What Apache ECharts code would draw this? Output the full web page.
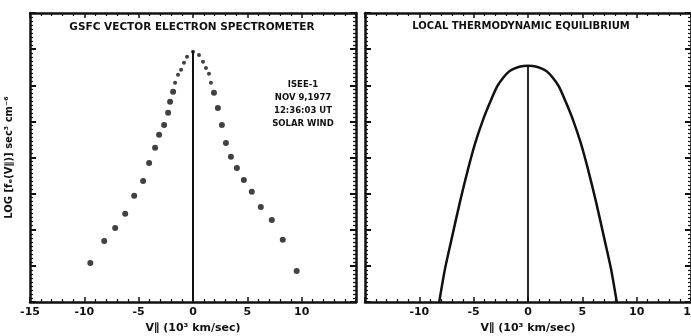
<!DOCTYPE html>
<html>
<head>
<meta charset="utf-8">
<script src="https://cdn.jsdelivr.net/npm/echarts@6/dist/echarts.min.js"></script>
<style>
  html, body { margin: 0; padding: 0; background: #fff; }
  #chart { width: 691px; height: 336px; }
</style>
</head>
<body>
<div id="chart"></div>
<script>
  // measured electron distribution (left panel)
  var measV = [-9.45, -8.17, -7.16, -6.24, -5.41, -4.59, -4.04, -3.49, -3.12, -2.66, -2.29, -2.11, -1.83, -1.65, -1.38, -1.10, -0.83, -0.55, 0,
               0.55, 0.92, 1.19, 1.47, 1.65, 1.93, 2.29, 2.66, 3.03, 3.49, 4.04, 4.68, 5.41, 6.24, 7.25, 8.26, 9.54];
  var measLogF = [1.08, 1.69, 2.05, 2.44, 2.94, 3.35, 3.85, 4.27, 4.63, 4.90, 5.24, 5.54, 5.82, 6.07, 6.29, 6.43, 6.62, 6.79, 6.93,
                  6.84, 6.65, 6.48, 6.32, 6.07, 5.79, 5.37, 4.90, 4.40, 4.02, 3.71, 3.38, 3.05, 2.63, 2.27, 1.72, 0.86];
  // maxwellian (right panel)
  var lteV = [-8.17, -7.65, -7.1, -6.24, -5.5, -4.86, -4.13, -3.5, -2.85, -2.3, -1.65, -0.8, 0,
              0.8, 1.65, 2.3, 2.85, 3.5, 4.13, 4.86, 5.5, 6.24, 7.1, 7.65, 8.17];
  var lteLogF = [0, 0.90, 1.65, 2.80, 3.70, 4.40, 5.05, 5.52, 5.96, 6.20, 6.40, 6.51, 6.54,
                 6.51, 6.40, 6.20, 5.96, 5.52, 5.05, 4.40, 3.70, 2.80, 1.65, 0.90, 0];
  var peakLeft = 6.95;
  var peakRight = 6.54;
  var infoLines = ['ISEE-1', 'NOV 9,1977', '12:36:03 UT', 'SOLAR WIND'];
  var titles = ['GSFC VECTOR ELECTRON SPECTROMETER', 'LOCAL THERMODYNAMIC EQUILIBRIUM'];
  var xName = 'V\u2225 (10\u00b3 km/sec)';
  var yName = 'LOG [f\u2091(V\u2225)] sec\u00b3 cm\u207b\u2076';

  var chart = echarts.init(document.getElementById('chart'));
  var font = 'DejaVu Sans';
  var black = '#111';

  function bottomAxis(grid, showMin, showMax) {
    return {
      type: 'value', gridIndex: grid, min: -15, max: 15, interval: 5, position: 'bottom',
      name: xName, nameLocation: 'middle', nameGap: 21,
      nameTextStyle: { color: black, fontFamily: font, fontWeight: 'bold', fontSize: 11 },
      axisLine: { onZero: false, lineStyle: { color: black, width: 2.5 } },
      axisTick: { inside: true, length: 5, lineStyle: { color: black, width: 1.5 } },
      minorTick: { show: true, splitNumber: 5, length: 3, lineStyle: { color: black, width: 1.2 } },
      axisLabel: { color: black, fontFamily: font, fontWeight: 'bold', fontSize: 11, margin: 5,
                   showMinLabel: showMin, showMaxLabel: showMax },
      splitLine: { show: false }
    };
  }
  function topAxis(grid) {
    return {
      type: 'value', gridIndex: grid, min: -15, max: 15, interval: 5, position: 'top',
      axisLine: { onZero: false, lineStyle: { color: black, width: 2.5 } },
      axisTick: { inside: true, length: 5, lineStyle: { color: black, width: 1.5 } },
      minorTick: { show: true, splitNumber: 5, length: 3, lineStyle: { color: black, width: 1.2 } },
      axisLabel: { show: false }, splitLine: { show: false }
    };
  }
  function sideAxis(grid, pos, named) {
    var ax = {
      type: 'value', gridIndex: grid, min: 0, max: 8, interval: 1, position: pos,
      axisLine: { onZero: false, lineStyle: { color: black, width: 2.5 } },
      axisTick: { inside: true, length: 6, lineStyle: { color: black, width: 2 } },
      minorTick: { show: true, splitNumber: 9, length: 3, lineStyle: { color: black, width: 1.2 } },
      axisLabel: { show: false }, splitLine: { show: false }
    };
    if (named) {
      ax.name = yName;
      ax.nameLocation = 'middle';
      ax.nameGap = 16;
      ax.nameRotate = 90;
      ax.nameTextStyle = { color: black, fontFamily: font, fontWeight: 'bold', fontSize: 10 };
    }
    return ax;
  }

  var scatterData = measV.map(function (v, i) { return [v, measLogF[i]]; });
  var curveData = lteV.map(function (v, i) { return [v, lteLogF[i]]; });

  var graphics = [
    { type: 'text', x: 192, y: 27, style: { text: titles[0], fill: black, font: 'bold 10.5px ' + font, textAlign: 'center', textVerticalAlign: 'middle' } },
    { type: 'text', x: 521, y: 26, style: { text: titles[1], fill: black, font: 'bold 10px ' + font, textAlign: 'center', textVerticalAlign: 'middle' } }
  ];
  infoLines.forEach(function (t, i) {
    graphics.push({ type: 'text', x: 303, y: 85 + i * 12.8,
      style: { text: t, fill: black, font: 'bold 8.5px ' + font, textAlign: 'center', textVerticalAlign: 'middle' } });
  });

  chart.setOption({
    backgroundColor: '#fff',
    animation: false,
    grid: [
      { left: 30, top: 13, width: 326, height: 289, outerBoundsMode: 'none', containLabel: false },
      { left: 365, top: 13, width: 326, height: 289, outerBoundsMode: 'none', containLabel: false }
    ],
    xAxis: [bottomAxis(0, true, false), topAxis(0), bottomAxis(1, false, true), topAxis(1)],
    yAxis: [sideAxis(0, 'left', true), sideAxis(0, 'right', false), sideAxis(1, 'left', false), sideAxis(1, 'right', false)],
    graphic: graphics,
    series: [
      {
        type: 'scatter', xAxisIndex: 0, yAxisIndex: 0, data: scatterData,
        symbolSize: function (d) { return d[1] > 5.9 ? 4 : 6; },
        itemStyle: { color: black }
      },
      {
        type: 'line', xAxisIndex: 0, yAxisIndex: 0, data: [[0, 0], [0, peakLeft]],
        symbol: 'none', lineStyle: { color: black, width: 2 }
      },
      {
        type: 'line', xAxisIndex: 2, yAxisIndex: 2, data: curveData, smooth: 0.25,
        symbol: 'none', lineStyle: { color: black, width: 2.5 }
      },
      {
        type: 'line', xAxisIndex: 2, yAxisIndex: 2, data: [[0, 0], [0, peakRight]],
        symbol: 'none', lineStyle: { color: black, width: 1.8 }
      }
    ]
  });
</script>
</body>
</html>
